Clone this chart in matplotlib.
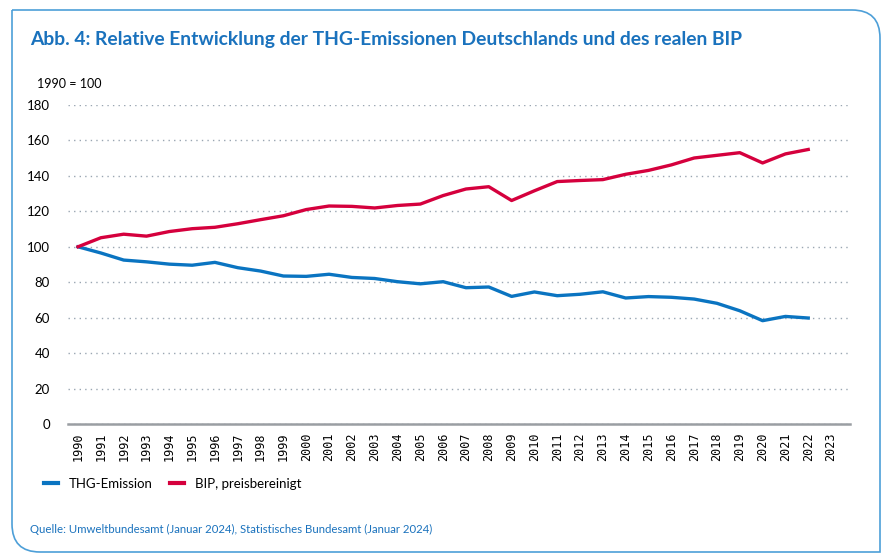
import matplotlib.pyplot as plt
from matplotlib.path import Path
from matplotlib.patches import PathPatch

years = list(range(1990, 2023))
thg = [100, 96.5, 92.5, 91.5, 90.2, 89.6, 91.2, 88.2, 86.3, 83.5, 83.3, 84.5,
       82.7, 82.1, 80.3, 79.1, 80.3, 76.9, 77.3, 72.0, 74.5, 72.4, 73.2, 74.6,
       71.1, 71.9, 71.5, 70.5, 68.1, 63.9, 58.3, 60.7, 59.8]
bip = [100, 105.1, 107.1, 106.0, 108.6, 110.2, 111.0, 113.0, 115.3, 117.5,
       121.0, 123.0, 122.8, 121.9, 123.3, 124.1, 128.9, 132.6, 133.9, 126.1,
       131.6, 136.8, 137.4, 137.9, 140.9, 143.1, 146.2, 150.1, 151.6, 153.1,
       147.3, 152.4, 154.9]
tick_years = list(range(1990, 2024))

blue = "#0a74c1"
red = "#d5003d"
frame_blue = "#4d9fd8"
title_blue = "#1a72bd"
font = "Lato"

fig = plt.figure(figsize=(8.92, 5.59), dpi=100)
W, H = 892, 559

# frame with rounded top-right and bottom-left corners
x0, y0, x1, y1, r = 12 / W, 1 - 552 / H, 880 / W, 1 - 10 / H, 28
rx, ry = r / W, r / H
verts = [(x0, y1), (x1 - rx, y1), (x1, y1), (x1, y1 - ry), (x1, y0),
         (x0 + rx, y0), (x0, y0), (x0, y0 + ry), (x0, y1)]
codes = [Path.MOVETO, Path.LINETO, Path.CURVE3, Path.CURVE3, Path.LINETO,
         Path.LINETO, Path.CURVE3, Path.CURVE3, Path.LINETO]
fig.patches.append(PathPatch(Path(verts, codes), transform=fig.transFigure,
                             fill=False, edgecolor=frame_blue, lw=1.2))

renderer = fig.canvas.get_renderer()


def fit_text(x, y, s, width_px, size, **kw):
    t = fig.text(x / W, 1 - y / H, s, fontsize=size, family=font, va="center", **kw)
    w = t.get_window_extent(renderer).width
    t.set_fontsize(size * width_px / w)
    return t


fit_text(30, 40, "Abb. 4: Relative Entwicklung der THG-Emissionen Deutschlands und des realen BIP",
         720, 14, color=title_blue, fontweight="bold")
fig.text(37 / W, 1 - 84 / H, "1990 = 100", fontsize=9, family=font, va="center")
fig.text(30 / W, 1 - 529 / H, "Quelle: Umweltbundesamt (Januar 2024), Statistisches Bundesamt (Januar 2024)",
         fontsize=8.2, family=font, va="center", color=title_blue)

ax = fig.add_axes([68 / W, 1 - 424 / H, (850 - 68) / W, (424 - 105) / H])
ax.plot(years, thg, color=blue, lw=2.4, label="THG-Emission")
ax.plot(years, bip, color=red, lw=2.4, label="BIP, preisbereinigt")
ax.set_ylim(0, 180)
ax.set_xlim(1989.56, 2023.83)
ax.set_yticks(range(0, 181, 20))
ax.set_xticks(tick_years)
ax.set_xticklabels([str(y) for y in tick_years], rotation=90, family="DejaVu Sans Mono", fontsize=8.5)
for lab in ax.get_yticklabels():
    lab.set_family(font)
    lab.set_fontsize(9.5)
ax.tick_params(length=0)
ax.tick_params(axis="y", pad=13)
ax.tick_params(axis="x", pad=6)
ax.grid(axis="y", linestyle=(0, (1, 3)), color="#9aa6b2", lw=1)
ax.set_axisbelow(True)
for s in ["top", "right", "left"]:
    ax.spines[s].set_visible(False)
ax.spines["bottom"].set_color("#9a9ea3")
ax.spines["bottom"].set_linewidth(1.8)

leg = fig.legend(loc="center left", bbox_to_anchor=(32 / W, 1 - 484 / H), ncol=2, frameon=False,
                 handlelength=1.1, columnspacing=1.3, handletextpad=0.8,
                 prop={"family": font, "size": 9.5})
for line in leg.get_lines():
    line.set_linewidth(3)

fig.savefig("out.png", dpi=100)
